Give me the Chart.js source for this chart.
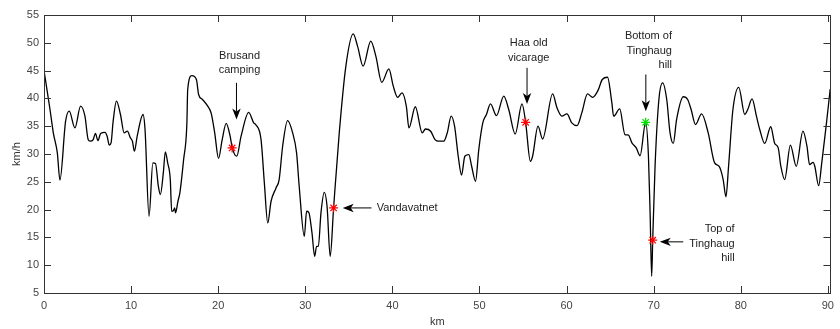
<!DOCTYPE html>
<html>
<head>
<meta charset="utf-8">
<script src="https://cdn.jsdelivr.net/npm/chart.js@4.4.1/dist/chart.umd.min.js"></script>
<style>
  html, body { margin: 0; padding: 0; background: #ffffff; }
  #wrap { width: 840px; height: 329px; position: relative; }
</style>
</head>
<body>
<div id="wrap"><canvas id="c" width="840" height="329"></canvas></div>
<script>
// ---- data ----
const km = [0,0.69,1.07,1.53,1.83,2.48,2.9,3.55,4.2,4.7,5.07,5.3,5.65,5.9,6.2,6.5,7.0,7.25,7.5,7.7,7.94,8.32,8.78,9.2,9.57,9.92,10.15,10.38,10.7,11.37,11.6,12.06,12.5,12.8,13.13,13.36,13.7,13.93,14.2,14.5,14.66,14.85,15.0,15.1,15.38,15.6,16.03,16.4,16.5,16.98,17.5,17.75,18.2,18.8,19.2,19.6,20.04,20.46,20.92,21.37,21.6,22.13,22.63,23.5,24.08,24.3,24.92,25.3,25.69,26.07,26.64,27.0,27.4,27.97,28.55,29.0,29.3,29.89,30.15,30.4,30.77,31.07,31.3,31.5,31.8,32.18,32.5,32.86,33.25,33.9,34.66,35.5,36.0,36.64,37.52,38.1,38.78,39.6,40.1,40.6,41.1,41.6,41.9,42.63,43.43,43.8,44.4,44.9,45.3,45.9,46.3,46.75,47.14,47.56,47.94,48.32,48.78,49.1,49.55,49.92,50.38,50.8,51.26,51.95,52.79,53.36,54.1,54.88,55.3,55.84,56.1,56.72,57.25,58.4,58.9,59.46,60.04,60.6,61.2,61.75,62.4,63.0,63.6,64.1,64.7,65.2,65.4,66.1,66.7,67.1,67.5,68.0,68.44,69.08,69.4,69.6,69.77,69.89,70.16,70.6,71.03,71.5,71.88,72.25,72.63,73.4,73.9,74.3,74.8,75.5,76.26,77.0,77.5,77.98,78.3,78.6,79.1,79.77,80.46,80.8,81.3,81.8,82.18,82.75,83.44,83.9,84.3,84.6,85.04,85.7,86.37,87.14,87.6,87.9,88.3,88.5,88.94,89.3,89.8,90.27];
const speed = [45,38.0,33.8,30.2,25.3,35.9,37.7,34.7,38.6,36.8,32.6,32.3,32.6,33.7,32.4,33.7,33.9,33.2,31.6,32.0,35.9,39.5,37.1,33.8,34.1,32.9,32.3,30.5,33.2,37.1,34.4,18.8,28.4,28.3,24.2,22.7,26.6,30.4,28.4,25.4,19.7,19.8,20.3,19.4,21.5,23.0,29.0,35.3,41.6,44.1,43.4,40.7,39.8,38.6,37.3,33.8,29.2,32.6,35.5,33.2,31.2,29.6,33.2,37.5,35.6,35.3,32.6,24.8,17.6,21.5,23.9,25.4,31.4,36.0,33.8,30.2,24.2,15.2,19.7,19.5,15.8,11.6,13.4,13.4,19.4,23.1,20.6,11.6,20.3,33.8,45.8,51.6,49.4,45.8,50.3,47.6,42.9,45.3,42.2,40.2,41.0,38.6,34.7,38.5,33.8,34.5,34.1,32.6,32.3,32.3,33.8,36.8,35.0,29.6,26.2,29.6,29.9,27.8,25.1,30.8,35.6,37.1,39.0,36.9,40.4,38.0,33.6,39.0,35.7,28.7,29.6,35.0,32.7,40.8,38.3,36.8,37.2,35.6,35.1,37.4,40.8,40.2,41.4,43.4,43.8,39.2,36.8,38.1,33.5,33.4,32.0,31.1,29.7,35.7,29.6,18.8,8.0,14.5,27.8,39.8,42.8,39.8,33.8,31.9,36.2,40.3,39.8,38.0,35.3,37.2,33.8,28.4,27.8,25.4,22.3,27.8,38.0,42.0,37.1,38.0,39.9,36.8,34.4,31.9,34.9,31.9,31.1,27.8,25.4,31.6,27.8,34.1,31.4,28.1,28.5,27.8,24.3,28.4,35.0,41.7];

const redKm = [21.6, 33.25, 55.3, 69.89];
const redSpeed = [31.1, 20.3, 35.7, 14.5];
const greenKm = [69.08];
const greenSpeed = [35.7];

const xTicks = [0,10,20,30,40,50,60,70,80,90];
const yTicks = [5,10,15,20,25,30,35,40,45,50,55];
const xTitle = 'km';
const yTitle = 'km/h';

// annotation texts; anchors given in data units
const noteTexts = [
  ['Brusand', 'camping'],
  ['Vandavatnet'],
  ['Haa old', 'vicarage'],
  ['Bottom of', 'Tinghaug', 'hill'],
  ['Top of', 'Tinghaug', 'hill']
];
const noteLayout = [
  {tx: 22.45, ty: 47.7, align: 'center', ax1: 22.1, ay1: 42.8, ax2: 22.1, ay2: 36.2},
  {tx: 38.2, ty: 20.3, align: 'left', ax1: 37.6, ay1: 20.3, ax2: 34.3, ay2: 20.3},
  {tx: 55.65, ty: 49.9, align: 'center', ax1: 55.46, ay1: 45.5, ax2: 55.46, ay2: 39.0},
  {tx: 72.1, ty: 51.2, align: 'right', ax1: 69.1, ay1: 44.3, ax2: 69.1, ay2: 37.7},
  {tx: 79.3, ty: 16.5, align: 'right', ax1: 73.4, ay1: 14.2, ax2: 70.7, ay2: 14.2}
];

const points = km.map((k, i) => ({x: k, y: speed[i]}));
const redPts = redKm.map((k, i) => ({x: k, y: redSpeed[i]}));
const greenPts = greenKm.map((k, i) => ({x: k, y: greenSpeed[i]}));

const AXIS = '#333333';
const FONT = '"Liberation Sans", Arial, Helvetica, sans-serif';

function drawArrow(ctx, x1, y1, x2, y2) {
  const ang = Math.atan2(y2 - y1, x2 - x1);
  const L = 11, W = 4.2, back = 8;
  ctx.save();
  ctx.strokeStyle = '#000';
  ctx.fillStyle = '#000';
  ctx.lineWidth = 1;
  ctx.beginPath();
  ctx.moveTo(x1, y1);
  ctx.lineTo(x2 - Math.cos(ang) * back, y2 - Math.sin(ang) * back);
  ctx.stroke();
  ctx.translate(x2, y2);
  ctx.rotate(ang);
  ctx.beginPath();
  ctx.moveTo(0, 0);
  ctx.lineTo(-L, -W);
  ctx.lineTo(-back, 0);
  ctx.lineTo(-L, W);
  ctx.closePath();
  ctx.fill();
  ctx.restore();
}

const framePlugin = {
  id: 'frame',
  afterDatasetsDraw(chart) {
    const ctx = chart.ctx;
    const xs = chart.scales.x, ys = chart.scales.y;
    const a = chart.chartArea;
    ctx.save();
    ctx.strokeStyle = AXIS;
    ctx.lineWidth = 1;
    ctx.strokeRect(Math.round(a.left) + 0.5, Math.round(a.top) + 0.5, Math.round(a.right - a.left), Math.round(a.bottom - a.top));
    ctx.beginPath();
    xTicks.forEach(v => {
      const px = Math.round(xs.getPixelForValue(v)) + 0.5;
      ctx.moveTo(px, a.bottom); ctx.lineTo(px, a.bottom - 7);
      ctx.moveTo(px, a.top); ctx.lineTo(px, a.top + 7);
    });
    yTicks.forEach(v => {
      const py = Math.round(ys.getPixelForValue(v)) + 0.5;
      ctx.moveTo(a.left, py); ctx.lineTo(a.left + 7, py);
      ctx.moveTo(a.right, py); ctx.lineTo(a.right - 7, py);
    });
    ctx.stroke();

    // axis titles
    ctx.fillStyle = AXIS;
    ctx.font = '11px ' + FONT;
    ctx.textAlign = 'center';
    ctx.textBaseline = 'middle';
    ctx.fillText(xTitle, (a.left + a.right) / 2, 322);
    ctx.save();
    ctx.translate(17, (a.top + a.bottom) / 2);
    ctx.rotate(-Math.PI / 2);
    ctx.fillText(yTitle, 0, 0);
    ctx.restore();

    // annotations
    ctx.fillStyle = '#222';
    ctx.font = '11px ' + FONT;
    noteTexts.forEach((lines, i) => {
      const n = noteLayout[i];
      const tx = xs.getPixelForValue(n.tx), ty = ys.getPixelForValue(n.ty);
      ctx.textAlign = n.align;
      ctx.textBaseline = 'middle';
      lines.forEach((t, j) => ctx.fillText(t, tx, ty + j * 14.5));
      drawArrow(ctx, xs.getPixelForValue(n.ax1), ys.getPixelForValue(n.ay1),
                     xs.getPixelForValue(n.ax2), ys.getPixelForValue(n.ay2));
    });
    ctx.restore();
  }
};

new Chart(document.getElementById('c'), {
  type: 'scatter',
  data: {
    datasets: [
      {
        data: points,
        showLine: true,
        borderColor: '#000',
        borderWidth: 1.3,
        pointRadius: 0,
        cubicInterpolationMode: 'monotone',
        order: 2
      },
      {
        data: redPts,
        showLine: false,
        pointStyle: 'star',
        pointRadius: 4.5,
        borderColor: '#ff0000',
        backgroundColor: '#ff0000',
        pointBorderWidth: 1.2,
        order: 1
      },
      {
        data: greenPts,
        showLine: false,
        pointStyle: 'star',
        pointRadius: 4.5,
        borderColor: '#00e000',
        backgroundColor: '#00e000',
        pointBorderWidth: 1.2,
        order: 1
      }
    ]
  },
  options: {
    responsive: false,
    animation: false,
    events: [],
    layout: { padding: { top: 15, right: 7, left: 0, bottom: 0 } },
    plugins: { legend: { display: false }, tooltip: { enabled: false } },
    scales: {
      x: {
        type: 'linear',
        min: 0,
        max: 90.3,
        grid: { display: false, drawTicks: false },
        border: { display: false },
        afterBuildTicks: s => { s.ticks = xTicks.map(v => ({value: v})); },
        afterFit: s => { s.height = 36; },
        ticks: { color: '#444', font: { family: FONT, size: 11 }, padding: 6, maxRotation: 0, autoSkip: false }
      },
      y: {
        type: 'linear',
        min: 5,
        max: 55,
        grid: { display: false, drawTicks: false },
        border: { display: false },
        afterBuildTicks: s => { s.ticks = yTicks.map(v => ({value: v})); },
        afterFit: s => { s.width = 44; },
        ticks: { color: '#444', font: { family: FONT, size: 11 }, padding: 5, autoSkip: false }
      }
    }
  },
  plugins: [framePlugin]
});
</script>
</body>
</html>
